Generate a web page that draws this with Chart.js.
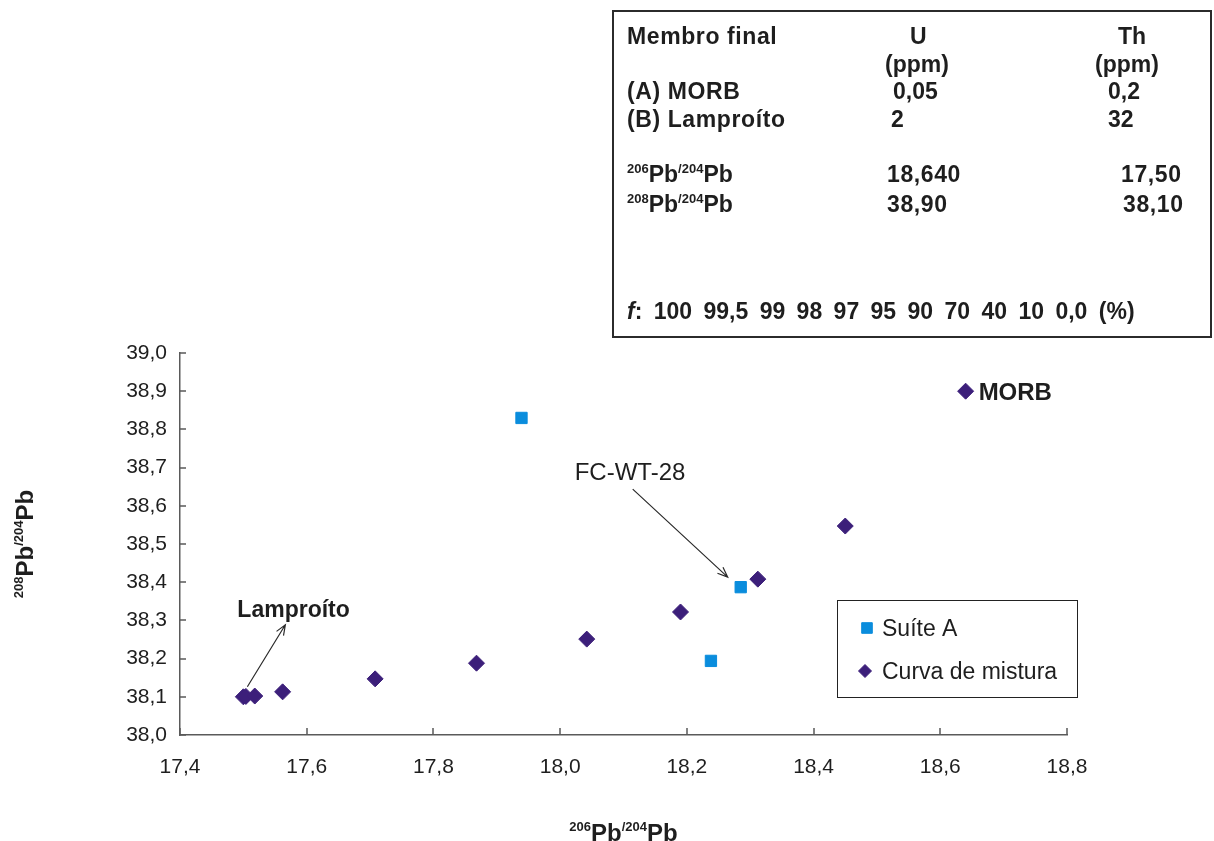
<!DOCTYPE html>
<html>
<head>
<meta charset="utf-8">
<title>Curva de mistura Pb</title>
<script src="https://cdn.jsdelivr.net/npm/chart.js@4.4.1/dist/chart.umd.min.js"></script>
<style>
  html, body { margin: 0; padding: 0; background: #fff; }
  #wrap { position: relative; width: 1214px; height: 841px; overflow: hidden; }
  #chart { position: absolute; left: 0; top: 0; }
  #endmembers { position: absolute; left: 612px; top: 10px; width: 596px; height: 324px; border: 2px solid #2b2b2b; }
  .t { position: absolute; font: bold 23px "Liberation Sans", Arial, sans-serif; color: #1e1e1e; line-height: 23px; white-space: nowrap; }
  .t sup { font-size: 13px; position: relative; top: -9px; vertical-align: baseline; }
  .t i { font-style: italic; }
  .f { word-spacing: 5px; }
  .ls { letter-spacing: 0.6px; }
</style>
</head>
<body>
<div id="wrap">
  <canvas id="chart" width="1214" height="841"></canvas>

  <!-- tabela dos membros finais -->
  <div id="endmembers"></div>
  <div class="t ls" style="left:627px;top:25px">Membro final</div>
  <div class="t" style="left:910px;top:25px">U</div>
  <div class="t" style="left:1118px;top:25px">Th</div>
  <div class="t" style="left:885px;top:53px">(ppm)</div>
  <div class="t" style="left:1095px;top:53px">(ppm)</div>
  <div class="t ls" style="left:627px;top:80px">(A) MORB</div>
  <div class="t" style="left:893px;top:80px">0,05</div>
  <div class="t" style="left:1108px;top:80px">0,2</div>
  <div class="t ls" style="left:627px;top:108px">(B) Lamproíto</div>
  <div class="t" style="left:891px;top:108px">2</div>
  <div class="t" style="left:1108px;top:108px">32</div>
  <div class="t" style="left:627px;top:163px"><sup>206</sup>Pb<sup>/204</sup>Pb</div>
  <div class="t ls" style="left:887px;top:163px">18,640</div>
  <div class="t ls" style="left:1121px;top:163px">17,50</div>
  <div class="t" style="left:627px;top:193px"><sup>208</sup>Pb<sup>/204</sup>Pb</div>
  <div class="t ls" style="left:887px;top:193px">38,90</div>
  <div class="t ls" style="left:1123px;top:193px">38,10</div>
  <div class="t f" style="left:627px;top:300px"><i>f</i>: 100 99,5 99 98 97 95 90 70 40 10 0,0 (%)</div>
</div>

<script>
// eixos
const xTickValues = [17.4, 17.6, 17.8, 18.0, 18.2, 18.4, 18.6, 18.8];
const xTickLabels = ["17,4", "17,6", "17,8", "18,0", "18,2", "18,4", "18,6", "18,8"];
const yTickValues = [38.0, 38.1, 38.2, 38.3, 38.4, 38.5, 38.6, 38.7, 38.8, 38.9, 39.0];
const yTickLabels = ["38,0", "38,1", "38,2", "38,3", "38,4", "38,5", "38,6", "38,7", "38,8", "38,9", "39,0"];

// amostras da Suíte A
const suiteNames = ["", "FC-WT-28", ""];
const suitePb206 = [17.939, 18.285, 18.238];
const suitePb208 = [38.830, 38.387, 38.194];

// curva de mistura lamproíto (f = 100) -> MORB (f = 0)
const mixF = [100, 99.5, 99, 98, 97, 95, 90, 70, 40, 10, 0];
const mixPb206 = [17.500, 17.504, 17.518, 17.562, 17.708, 17.868, 18.042, 18.190, 18.312, 18.450, 18.640];
const mixPb208 = [38.100, 38.101, 38.102, 38.113, 38.147, 38.188, 38.251, 38.322, 38.408, 38.547, 38.900];

const FONT = '"Liberation Sans", Arial, sans-serif';
const TEXT = "#1e1e1e";
const AXIS = "#5a5a5a";
const BLUE = "#0a8ddd";
const PURPLE = "#3c1f7a";

const suitePoints = suitePb206.map((x, i) => ({ x, y: suitePb208[i], name: suiteNames[i] }));
const mixPoints = mixPb206.map((x, i) => ({ x, y: mixPb208[i], f: mixF[i] }));

// texto com sobrescritos (ex.: 208Pb/204Pb), centrado em x
function drawIsotope(ctx, parts, cx, baseline, size, supSize) {
  const widths = parts.map(p => {
    ctx.font = `bold ${p.sup ? supSize : size}px ${FONT}`;
    return ctx.measureText(p.t).width;
  });
  let x = cx - widths.reduce((a, b) => a + b, 0) / 2;
  ctx.textAlign = "left";
  ctx.textBaseline = "alphabetic";
  parts.forEach((p, i) => {
    ctx.font = `bold ${p.sup ? supSize : size}px ${FONT}`;
    ctx.fillText(p.t, x, p.sup ? baseline - size * 0.42 : baseline);
    x += widths[i];
  });
}

function arrow(ctx, x1, y1, x2, y2) {
  const ang = Math.atan2(y2 - y1, x2 - x1);
  const head = 11;
  ctx.beginPath();
  ctx.moveTo(x1, y1);
  ctx.lineTo(x2, y2);
  ctx.moveTo(x2 - head * Math.cos(ang - 0.38), y2 - head * Math.sin(ang - 0.38));
  ctx.lineTo(x2, y2);
  ctx.lineTo(x2 - head * Math.cos(ang + 0.38), y2 - head * Math.sin(ang + 0.38));
  ctx.stroke();
}

const decorations = {
  id: "decorations",
  afterDraw(chart) {
    const { ctx, chartArea: a, scales: { x, y } } = chart;
    ctx.save();

    // marcas dos eixos para dentro
    ctx.strokeStyle = AXIS;
    ctx.lineWidth = 1.5;
    ctx.beginPath();
    xTickValues.forEach(v => {
      const px = Math.round(x.getPixelForValue(v));
      ctx.moveTo(px, a.bottom);
      ctx.lineTo(px, a.bottom - 7);
    });
    yTickValues.forEach(v => {
      const py = Math.round(y.getPixelForValue(v));
      ctx.moveTo(a.left, py);
      ctx.lineTo(a.left + 6, py);
    });
    ctx.stroke();

    // títulos dos eixos
    ctx.fillStyle = TEXT;
    drawIsotope(ctx, [{ t: "206", sup: true }, { t: "Pb" }, { t: "/204", sup: true }, { t: "Pb" }],
      (a.left + a.right) / 2, 841, 24, 13);
    ctx.save();
    ctx.translate(33, (a.top + a.bottom) / 2);
    ctx.rotate(-Math.PI / 2);
    drawIsotope(ctx, [{ t: "208", sup: true }, { t: "Pb" }, { t: "/204", sup: true }, { t: "Pb" }],
      0, 0, 24, 13);
    ctx.restore();

    // rótulos dos membros finais e da amostra
    const lamp = mixPoints[0];
    const morb = mixPoints[mixPoints.length - 1];
    const lx = x.getPixelForValue(lamp.x), ly = y.getPixelForValue(lamp.y);
    const mx = x.getPixelForValue(morb.x), my = y.getPixelForValue(morb.y);

    ctx.textAlign = "left";
    ctx.textBaseline = "alphabetic";
    ctx.font = `bold 24px ${FONT}`;
    ctx.fillText("MORB", mx + 13, my + 8.5);

    ctx.font = `bold 23px ${FONT}`;
    ctx.fillText("Lamproíto", lx - 6, ly - 80);

    ctx.strokeStyle = "#2a2a2a";
    ctx.lineWidth = 1.2;
    arrow(ctx, lx + 4, ly - 10, lx + 42, ly - 72);

    suitePoints.filter(p => p.name).forEach(p => {
      const px = x.getPixelForValue(p.x), py = y.getPixelForValue(p.y);
      ctx.font = `24px ${FONT}`;
      ctx.fillText(p.name, px - 166, py - 107);
      arrow(ctx, px - 108, py - 98, px - 13, py - 10);
    });

    // legenda
    ctx.strokeStyle = "#222";
    ctx.lineWidth = 1;
    ctx.strokeRect(837.5, 600.5, 240, 97);
    const items = [
      { ds: chart.data.datasets[0], cx: 867, cy: 628 },
      { ds: chart.data.datasets[1], cx: 865, cy: 671 }
    ];
    items.forEach(it => {
      ctx.fillStyle = it.ds.backgroundColor;
      ctx.strokeStyle = it.ds.borderColor;
      ctx.lineWidth = 1;
      Chart.helpers.drawPoint(ctx, { pointStyle: it.ds.pointStyle, radius: it.ds.pointStyle === "rect" ? 7.5 : 6.5, rotation: 0, borderWidth: 1 }, it.cx, it.cy);
      ctx.fillStyle = TEXT;
      ctx.font = `23px ${FONT}`;
      ctx.fillText(it.ds.label, 882, it.cy + 8);
    });

    ctx.restore();
  }
};

new Chart(document.getElementById("chart"), {
  type: "scatter",
  data: {
    datasets: [
      {
        label: "Suíte A",
        data: suitePoints,
        pointStyle: "rect",
        pointRadius: 8,
        backgroundColor: BLUE,
        borderColor: BLUE,
        borderWidth: 1
      },
      {
        label: "Curva de mistura",
        data: mixPoints,
        pointStyle: "rectRot",
        pointRadius: 8,
        backgroundColor: PURPLE,
        borderColor: PURPLE,
        borderWidth: 1
      }
    ]
  },
  options: {
    responsive: false,
    animation: false,
    events: [],
    layout: { padding: { left: 0, top: 353, right: 147, bottom: 0 } },
    plugins: { legend: { display: false }, tooltip: { enabled: false } },
    scales: {
      x: {
        type: "linear",
        min: 17.4,
        max: 18.8,
        afterBuildTicks: s => { s.ticks = xTickValues.map(v => ({ value: v })); },
        afterFit: s => { s.height = 106; },
        grid: { display: false, drawTicks: false },
        border: { color: AXIS, width: 1.5 },
        ticks: {
          padding: 20,
          color: TEXT,
          font: { family: FONT, size: 21 },
          maxRotation: 0,
          autoSkip: false,
          callback: (v, i) => xTickLabels[i]
        }
      },
      y: {
        type: "linear",
        min: 38.0,
        max: 39.0,
        afterBuildTicks: s => { s.ticks = yTickValues.map(v => ({ value: v })); },
        afterFit: s => { s.width = 180; },
        grid: { display: false, drawTicks: false },
        border: { color: AXIS, width: 1.5 },
        ticks: {
          padding: 13,
          color: TEXT,
          font: { family: FONT, size: 21 },
          autoSkip: false,
          callback: (v, i) => yTickLabels[i]
        }
      }
    }
  },
  plugins: [decorations]
});
</script>
</body>
</html>
